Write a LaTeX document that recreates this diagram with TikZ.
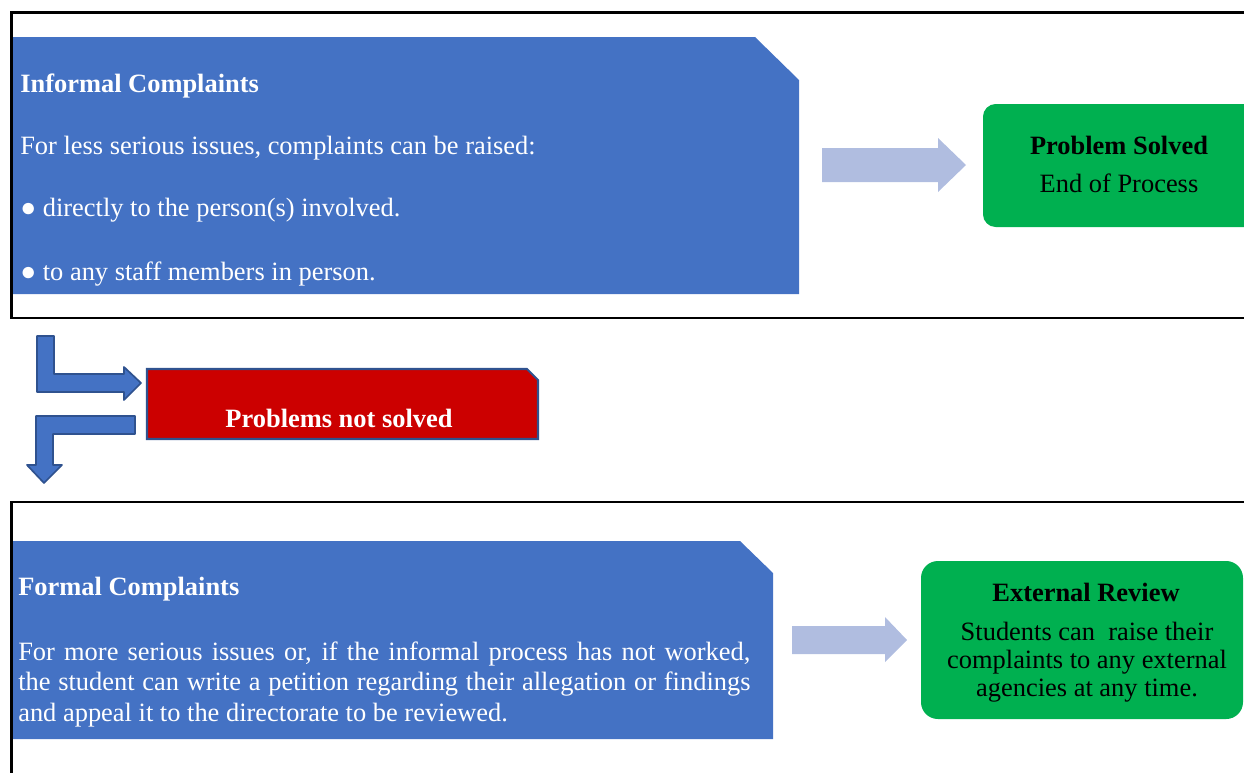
\documentclass[tikz,border=0pt]{standalone}
\usepackage{fontspec}
\setmainfont{Liberation Serif}
\usetikzlibrary{positioning}
\definecolor{boxblue}{HTML}{4472C4}
\definecolor{lineblue}{HTML}{2F528F}
\definecolor{boxgreen}{HTML}{00B050}
\definecolor{boxred}{HTML}{CC0000}
\definecolor{arrowblue}{HTML}{B0BDE0}
\begin{document}
\begin{tikzpicture}[x=0.025cm,y=-0.025cm,
  frame/.style={draw=black,line width=2.1pt},
  bent/.style={fill=boxblue,draw=lineblue,line width=1.2pt,line join=round},
  txt/.style={inner sep=0pt,font=\fontsize{18.8}{20.6}\selectfont},
  wtxt/.style={txt,text=white,anchor=base west},
  gtxt/.style={txt,text=black,anchor=base,align=center}]
\useasboundingbox (0,0) rectangle (1244,772);
\clip (0,0) rectangle (1244,772);
 	\fill[boxblue] (13,37) -- (755,37) -- (799,80) -- (799,294) -- (13,294) -- cycle;
 	\draw[frame] (1260,12.5) -- (11.5,12.5) -- (11.5,318) -- (1260,318);
 		\node[wtxt] (inftitle) at (20,92) {\bfseries Informal Complaints};
 		\node[wtxt] (infline) at (20,154) {For less serious issues, complaints can be raised:};
 		\node[wtxt] (infperson) at (20,216) {● directly to the person(s) involved.};
 		\node[wtxt] (infstaff) at (20,280) {● to any staff members in person.};
 	\fill[arrowblue] (822,148) -- (938,148) -- (938,138) -- (966,165) -- (938,192) -- (938,182) -- (822,182) -- cycle;
 	\fill[boxgreen,rounded corners=9pt] (983,104) rectangle (1290,227);
 		\node[gtxt] (solvedtitle) at (1119,154) {\bfseries Problem Solved};
 		\node[gtxt] (solvedtext) at (1119,192) {End of Process};
 	\filldraw[bent] (37,336) -- (54,336) -- (54,374) -- (124,374) -- (124,367) -- (141,383) -- (124,400) -- (124,392) -- (37,392) -- cycle;
 	\filldraw[bent] (36,416) -- (135,416) -- (135,434) -- (53,434) -- (53,465) -- (62,465) -- (44,483) -- (27,465) -- (36,465) -- cycle;
 	\filldraw[fill=boxred,draw=lineblue,line width=1.5pt] (147,369) -- (527,369) -- (538,380) -- (538,439) -- (147,439) -- cycle;
 		\node[txt,text=white,anchor=base] (notsolved) at (339,427) {\bfseries Problems not solved};
 	\fill[boxblue] (13,541) -- (740,541) -- (773,573) -- (773,739) -- (13,739) -- cycle;
 	\draw[frame] (1260,502) -- (11.5,502) -- (11.5,790);
 		\node[wtxt] (formtitle) at (18,595) {\bfseries Formal Complaints};
 		\node[wtxt,text width=18.3cm,align=justify,font=\fontsize{18.8}{22}\selectfont] (formtext) at (18,660) {For more serious issues or, if the informal process has not worked,\linebreak the student can write a petition regarding their allegation or findings\linebreak and appeal it to the directorate to be reviewed.};
 	\fill[arrowblue] (792,626) -- (885,626) -- (885,617) -- (907,640) -- (885,662) -- (885,654) -- (792,654) -- cycle;
 	\fill[boxgreen,rounded corners=12pt] (921,561) rectangle (1243,719);
 		\node[gtxt] (exttitle) at (1086,601) {\bfseries External Review};
 		\node[gtxt,font=\fontsize{18.8}{19.9}\selectfont] (exttext) at (1087,696) {Students can\ \ raise their\\complaints to any external\\agencies at any time.};
\end{tikzpicture}
\end{document}
